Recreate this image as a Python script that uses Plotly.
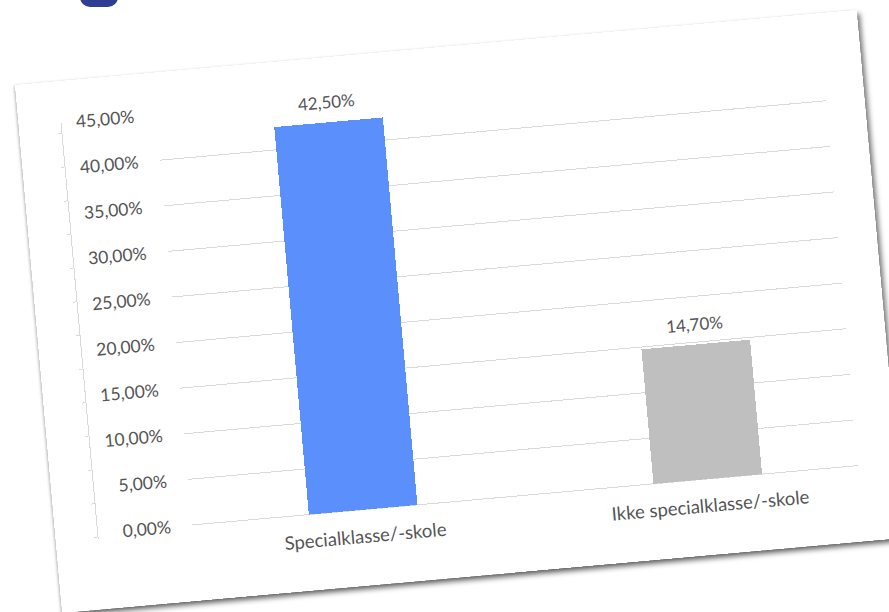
import plotly.graph_objects as go

# ---- data ----
categories = ["Specialklasse/-skole", "Ikke specialklasse/-skole"]
values = [0.425, 0.147]
value_labels = ["42,50%", "14,70%"]
bar_colors = ["#5B8FFB", "#BFBFBF"]
y_ticks = [0, 0.05, 0.10, 0.15, 0.20, 0.25, 0.30, 0.35, 0.40, 0.45]

FONT = "Lato, 'Open Sans', sans-serif"
TXT = "#555555"
GRID = "#D9D9D9"

fig = go.Figure()
fig.add_trace(go.Bar(
    x=categories, y=values, marker_color=bar_colors, marker_line_width=0,
    width=0.315, hoverinfo="skip", showlegend=False,
))
# decorative secondary axis (left line with small ticks)
fig.add_trace(go.Scatter(x=[], y=[], yaxis="y2", showlegend=False, hoverinfo="skip"))

for c, v, t in zip(categories, values, value_labels):
    fig.add_annotation(x=c, y=v, text=t, showarrow=False, yanchor="bottom",
                       yshift=8, font=dict(family=FONT, size=17, color=TXT))

fig.update_layout(
    width=845, height=530,
    margin=dict(l=42, r=39, t=42, b=70),
    paper_bgcolor="white", plot_bgcolor="white",
    separators=",.",
    font=dict(family=FONT, size=17, color=TXT),
    bargap=0.0,
    xaxis=dict(
        domain=[0.125, 1], range=[-0.495, 1.435], type="category",
        showgrid=False, showline=False, zeroline=False,
        ticks="outside", ticklen=4, tickcolor="rgba(0,0,0,0)",
        tickfont=dict(family=FONT, size=18.5, color=TXT),
    ),
    yaxis=dict(
        range=[-0.00655, 0.45], tickvals=y_ticks, tickformat=".2%",
        showgrid=True, gridcolor=GRID, gridwidth=1.3, zeroline=False,
        showline=False, ticks="outside", ticklen=17, tickcolor="rgba(0,0,0,0)",
        tickfont=dict(family=FONT, size=17.5, color=TXT),
    ),
    yaxis2=dict(
        overlaying="y", anchor="free", position=0, side="left",
        range=[-0.059, 12.31], tick0=0, dtick=1,
        showgrid=False, zeroline=False, showline=True, linecolor=GRID, linewidth=1.3,
        ticks="outside", ticklen=3, tickcolor=GRID, tickwidth=1.3,
        showticklabels=False,
    ),
)

post = """
var gd = document.getElementById('{plot_id}');
document.body.style.margin = '0';
document.body.style.background = '#ffffff';
document.body.style.overflow = 'hidden';
gd.style.position = 'absolute';
gd.style.left = '15px';
gd.style.top = '85px';
gd.style.transformOrigin = '0 0';
gd.style.transform = 'rotate(-5.1deg)';
gd.style.boxShadow = '3px 4px 5px rgba(0,0,0,0.5), -1px 1px 3px rgba(0,0,0,0.25)';
var b = document.createElement('div');
b.style.cssText = 'position:absolute;left:80px;top:-26px;width:38px;height:33px;border-radius:10px;background:#2F3E94;';
document.body.appendChild(b);
"""

fig.write_html("out.html", config={"displayModeBar": False}, post_script=post)
